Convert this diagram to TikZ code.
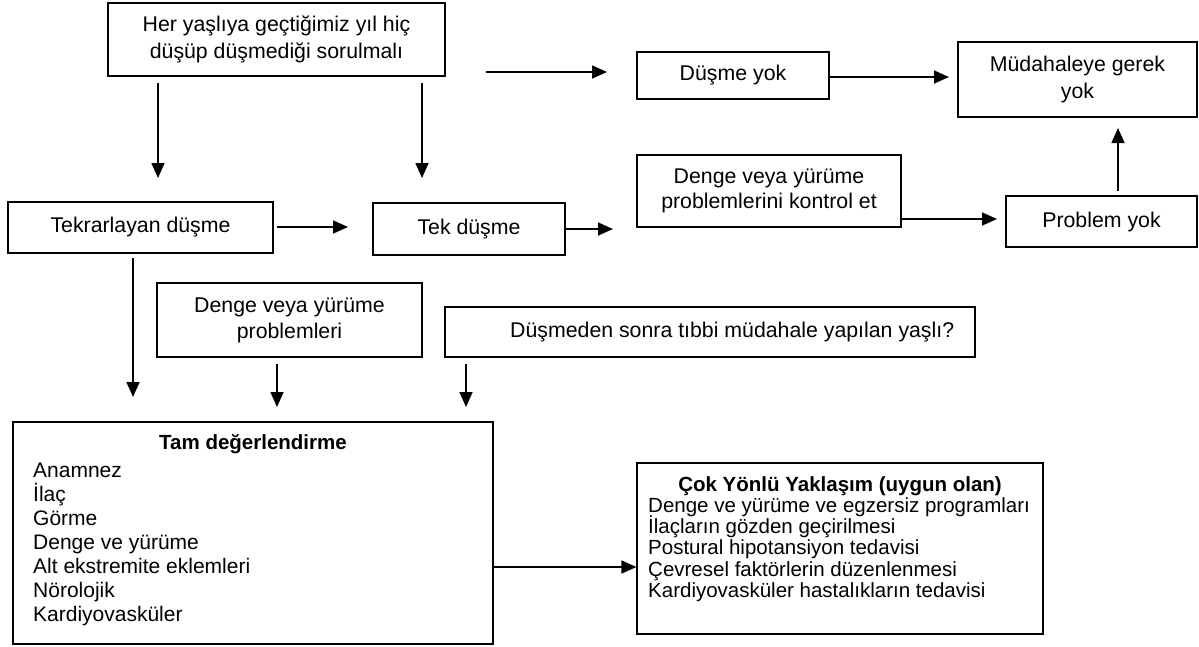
\documentclass[tikz,border=0pt]{standalone}
\usepackage{fontspec}
\setmainfont{Liberation Sans}
\usetikzlibrary{arrows.meta}
\begin{document}
\begin{tikzpicture}[x=1pt,y=-1pt,
  every node/.append style={font=\fontsize{21.3}{26}\selectfont},
  box/.style={draw, line width=1.2pt, inner sep=0pt, align=center},
  arr/.style={line width=1.6pt, -{Triangle[length=15pt,width=13pt]}},
  lbl/.style={anchor=base west, inner sep=0pt},
  ttl/.style={anchor=base, inner sep=0pt, font=\fontsize{20.5}{26}\selectfont\bfseries}]
\useasboundingbox (0,0) rectangle (1199,646);

% boxes
\node[box, minimum width=337pt, minimum height=73pt, font=\fontsize{21.3}{27}\selectfont] (A) at (276.5,39.5) {Her yaşlıya geçtiğimiz yıl hiç\\düşüp düşmediği sorulmalı};
\node[box, minimum width=192pt, minimum height=47pt] (DY) at (733,75.5) {Düşme yok};
\node[box, minimum width=239pt, minimum height=75pt, font=\fontsize{21.3}{27}\selectfont] (MG) at (1077.5,79.5) {Müdahaleye gerek\\yok};
\node[box, minimum width=265pt, minimum height=51pt] (TD) at (140.5,227.5) {Tekrarlayan düşme};
\node[box, minimum width=192pt, minimum height=52pt] (TK) at (469,229) {Tek düşme};
\node[box, minimum width=264pt, minimum height=72pt, font=\fontsize{21.3}{25}\selectfont] (DK) at (769,191) {Denge veya yürüme\\problemlerini kontrol et};
\node[box, minimum width=191pt, minimum height=51pt] (PY) at (1101.5,221.5) {Problem yok};
\node[box, minimum width=265pt, minimum height=74pt] (DP) at (289.5,320) {Denge veya yürüme\\problemleri};
\node[box, minimum width=530pt, minimum height=50pt] (DS) at (710,332) {};
\node[anchor=west, inner sep=0pt] (DSt) at (510,332) {Düşmeden sonra tıbbi müdahale yapılan yaşlı?};
\node[box, minimum width=480pt, minimum height=222pt] (TAM) at (253,533) {};
\node[box, minimum width=406pt, minimum height=171pt] (COK) at (840,548.5) {};

% texts of the two list boxes
\node[ttl] (TAMt) at (253,449) {Tam değerlendirme};
\foreach \t [count=\i from 0] in {Anamnez,İlaç,Görme,Denge ve yürüme,Alt ekstremite eklemleri,Nörolojik,Kardiyovasküler}
  \node[lbl, font=\fontsize{21}{24}\selectfont] (TAM\i) at (33,477+24*\i) {\t};
\node[ttl] (COKt) at (840,491) {Çok Yönlü Yaklaşım (uygun olan)};
\foreach \t [count=\i from 0] in {Denge ve yürüme ve egzersiz programları,İlaçların gözden geçirilmesi,Postural hipotansiyon tedavisi,Çevresel faktörlerin düzenlenmesi,Kardiyovasküler hastalıkların tedavisi}
  \node[lbl, font=\fontsize{20.5}{21}\selectfont] (COK\i) at (648,512.5+21.2*\i) {\t};

% free arrow ends
\coordinate (p1) at (158,83);  \coordinate (q1) at (158,178);
\coordinate (p2) at (422,83);  \coordinate (q2) at (422,178);
\coordinate (p3) at (486,72);  \coordinate (q3) at (607,72);
\coordinate (q4) at (949,77);
\coordinate (p5) at (277,227); \coordinate (q5) at (348,227);
\coordinate (q6) at (613,229);
\coordinate (q7) at (997,219);
\coordinate (p8) at (1118,191); \coordinate (q8) at (1118,128);
\coordinate (p9) at (133,258); \coordinate (q9) at (133,397);
\coordinate (p10) at (277,364); \coordinate (q10) at (277,407);
\coordinate (p11) at (466,364); \coordinate (q11) at (466,407);
\coordinate (q12) at (637,567);

% connectors
\draw[arr] (p1) -- (q1);
\draw[arr] (p2) -- (q2);
\draw[arr] (p3) -- (q3);
\draw[arr] (DY.east |- q4) -- (q4);
\draw[arr] (p5) -- (q5);
\draw[arr] (TK.east) -- (q6);
\draw[arr] (DK.east |- q7) -- (q7);
\draw[arr] (p8) -- (q8);
\draw[arr] (p9) -- (q9);
\draw[arr] (p10) -- (q10);
\draw[arr] (p11) -- (q11);
\draw[arr] (TAM.east |- q12) -- (COK.west |- q12);
\end{tikzpicture}
\end{document}
